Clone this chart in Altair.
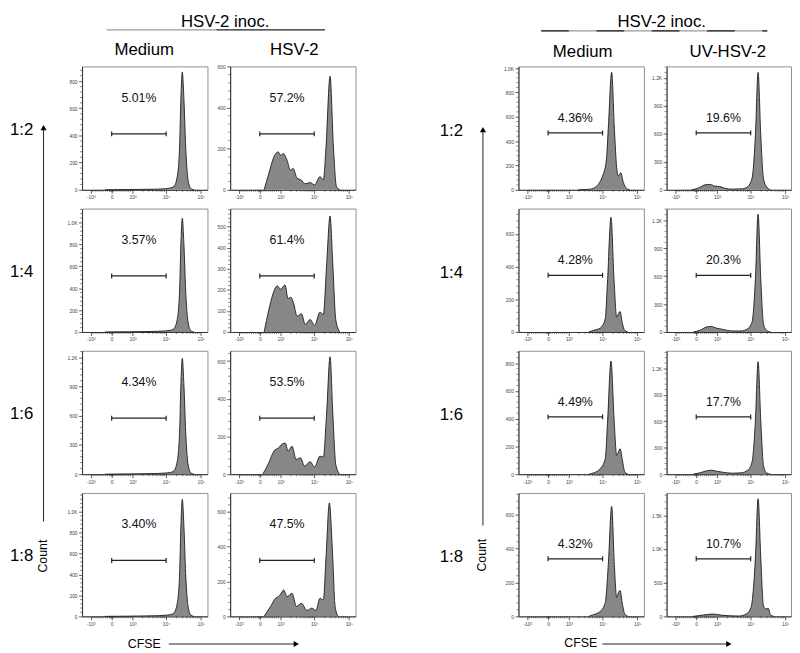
import altair as alt
import numpy as np
import pandas as pd

FONT = "Liberation Sans"

# ---------------- CFSE axis (biexponential display units) ----------------
X_TICKS = [-0.62, 0.0, 0.62, 1.62, 2.65]
X_TICK_LABELS = ["-10³", "0", "10³", "10⁴", "10⁵"]

# ---------------- histogram data: left experiment (HSV-2) ----------------
U_LMED = [-0.20, 0.50, 1.20, 1.60, 1.75, 1.85, 1.95, 2.02, 2.06, 2.10, 2.15, 2.20, 2.25, 2.30, 2.36, 2.45]
C_LMED_12 = [0, 2, 4, 8, 14, 25, 97, 315, 680, 868, 660, 320, 120, 40, 8, 0]
C_LMED_14 = [0, 2, 5, 10, 16, 30, 115, 375, 810, 1037, 790, 380, 145, 48, 10, 0]
C_LMED_16 = [0, 3, 6, 12, 18, 34, 133, 430, 930, 1190, 905, 440, 165, 55, 11, 0]
C_LMED_18 = [0, 2, 5, 11, 17, 32, 125, 405, 875, 1118, 850, 410, 155, 52, 10, 0]

U_LHSV_12 = [0.13, 0.27, 0.42, 0.55, 0.62, 0.70, 0.81, 0.91, 0.99, 1.11, 1.23, 1.35, 1.50, 1.63, 1.79, 1.89, 1.97, 2.09, 2.19, 2.28, 2.38]
C_LHSV_12 = [0, 80, 160, 184, 168, 176, 144, 96, 104, 56, 48, 29, 35, 24, 64, 48, 208, 552, 208, 16, 0]

U_LHSV_14 = [0.13, 0.27, 0.37, 0.52, 0.62, 0.75, 0.84, 0.92, 1.00, 1.11, 1.24, 1.35, 1.50, 1.63, 1.79, 1.89, 1.99, 2.09, 2.17, 2.26, 2.38]
C_LHSV_14 = [0, 106, 169, 219, 203, 223, 158, 165, 140, 75, 87, 36, 59, 31, 94, 83, 325, 551, 325, 59, 0]

U_LHSV_16 = [0.09, 0.27, 0.42, 0.55, 0.67, 0.76, 0.84, 0.96, 1.08, 1.21, 1.33, 1.50, 1.63, 1.79, 1.89, 1.99, 2.09, 2.17, 2.26, 2.38]
C_LHSV_16 = [0, 61, 122, 139, 160, 165, 122, 148, 78, 87, 43, 66, 38, 96, 90, 330, 623, 330, 52, 0]

U_LHSV_18 = [0.13, 0.32, 0.47, 0.55, 0.62, 0.71, 0.81, 0.96, 1.09, 1.24, 1.40, 1.55, 1.67, 1.79, 1.89, 1.97, 2.07, 2.16, 2.24, 2.33]
C_LHSV_18 = [0, 57, 104, 113, 128, 151, 113, 132, 57, 75, 34, 47, 34, 104, 94, 340, 651, 377, 57, 0]

# ---------------- histogram data: right experiment (UV-HSV-2) ----------------
U_RMED_12 = [0.90, 1.25, 1.45, 1.60, 1.73, 1.79, 1.89, 1.97, 2.04, 2.09, 2.16, 2.24, 2.33, 2.43]
C_RMED_12 = [0, 5, 32, 100, 235, 505, 965, 505, 181, 113, 140, 59, 13, 0]

U_RMED_14 = [1.21, 1.35, 1.55, 1.70, 1.77, 1.87, 1.96, 2.04, 2.09, 2.14, 2.21, 2.28, 2.38]
C_RMED_14 = [0, 10, 24, 81, 322, 701, 322, 91, 111, 125, 50, 10, 0]

U_RMED_16 = [1.21, 1.35, 1.55, 1.70, 1.77, 1.87, 1.96, 2.04, 2.09, 2.14, 2.21, 2.28, 2.38]
C_RMED_16 = [0, 9, 40, 111, 384, 816, 408, 135, 159, 183, 100, 17, 0]

U_RMED_18 = [1.21, 1.35, 1.55, 1.70, 1.79, 1.89, 1.97, 2.04, 2.09, 2.14, 2.21, 2.28, 2.38]
C_RMED_18 = [0, 10, 29, 82, 305, 649, 305, 111, 140, 153, 72, 14, 0]

U_RUV_12 = [-0.14, 0.06, 0.26, 0.42, 0.55, 0.70, 0.84, 1.09, 1.38, 1.53, 1.66, 1.76, 1.84, 1.92, 2.00, 2.09, 2.21]
C_RUV_12 = [0, 18, 53, 58, 40, 35, 18, 7, 11, 35, 124, 582, 1260, 582, 124, 35, 0]

U_RUV_14 = [-0.09, 0.11, 0.30, 0.45, 0.60, 0.79, 1.09, 1.33, 1.53, 1.66, 1.76, 1.84, 1.92, 2.00, 2.09, 2.21]
C_RUV_14 = [0, 18, 53, 60, 42, 28, 11, 11, 35, 106, 565, 1264, 565, 88, 18, 0]

U_RUV_16 = [-0.09, 0.11, 0.30, 0.45, 0.60, 0.79, 1.09, 1.33, 1.53, 1.66, 1.76, 1.84, 1.92, 2.00, 2.09, 2.21]
C_RUV_16 = [0, 15, 37, 45, 34, 22, 11, 15, 45, 138, 604, 1275, 604, 100, 15, 0]

U_RUV_18 = [-0.09, 0.21, 0.50, 0.79, 1.28, 1.48, 1.63, 1.76, 1.84, 1.92, 2.00, 2.07, 2.14, 2.21, 2.31]
C_RUV_18 = [0, 20, 34, 15, 5, 34, 132, 865, 1745, 865, 156, 108, 122, 24, 0]

# ---------------- per-panel axis maxima, ticks, gates, percentages ----------------
YMAX_LMED = [909, 1126, 1268, 1180]
YMAX_LHSV = [600, 586, 655, 708]
YMAX_RMED = [1014, 755, 890, 729]
YMAX_RUV = [1325, 1325, 1399, 1833]

YTICKS_LMED = [[0, 200, 400, 600, 800], [0, 200, 400, 600, 800, 1000], [0, 300, 600, 900, 1200], [0, 200, 400, 600, 800, 1000]]
YTICKS_LHSV = [[0, 200, 400, 600], [0, 100, 200, 300, 400, 500], [0, 200, 400, 600], [0, 200, 400, 600]]
YTICKS_RMED = [[0, 200, 400, 600, 800, 1000], [0, 200, 400, 600], [0, 200, 400, 600, 800], [0, 200, 400, 600]]
YTICKS_RUV = [[0, 300, 600, 900, 1200], [0, 300, 600, 900, 1200], [0, 300, 600, 900, 1200], [0, 500, 1000, 1500]]

GATE_U = [0.0, 1.62]
GATE_Y_LMED = [412, 511, 575, 535]
GATE_Y_LHSV = [272, 266, 297, 321]
GATE_Y_RMED = [467, 347, 413, 340]
GATE_Y_RUV = [611, 608, 649, 855]

PCT_LMED = ["5.01%", "3.57%", "4.34%", "3.40%"]
PCT_LHSV = ["57.2%", "61.4%", "53.5%", "47.5%"]
PCT_RMED = ["4.36%", "4.28%", "4.49%", "4.32%"]
PCT_RUV = ["19.6%", "20.3%", "17.7%", "10.7%"]
PCT_U = 0.81
PCT_Y_LMED = [676, 838, 943, 878]
PCT_Y_LHSV = [446, 436, 487, 527]
PCT_Y_RMED = [592, 441, 520, 426]
PCT_Y_RUV = [774, 774, 817, 1070]

RATIOS = ["1:2", "1:4", "1:6", "1:8"]

# ---------------- layout constants ----------------
PANEL_H = 125
W_L = 127
W_R1 = 127
W_R2 = 126
SPACER_W = 119
PX_PER_U = 34.05
X_MIN = -30 / PX_PER_U

ONE = pd.DataFrame({"k": [0]})


def build_x_expr():
    parts = []
    for i in range(len(X_TICKS) - 1):
        mid = (X_TICKS[i] + X_TICKS[i + 1]) / 2
        parts.append(f"datum.value < {mid:.3f} ? '{X_TICK_LABELS[i]}' : ")
    return "".join(parts) + f"'{X_TICK_LABELS[-1]}'"


X_EXPR = build_x_expr()
Y_EXPR = "datum.value >= 1000 ? format(datum.value / 1000, '.1f') + 'K' : format(datum.value, 'd')"

X_MINOR = sorted(
    [-0.062 * k for k in range(1, 10)]
    + [0.062 * k for k in range(1, 10)]
    + [-0.03, -0.015, 0.015, 0.03]
    + [0.62 + float(np.log10(k)) for k in range(2, 10)]
    + [1.62 + 1.03 * float(np.log10(k)) for k in range(2, 10)]
)


def ann_text(txt, x, y, size, align="center", baseline="middle", angle=None, color="#000"):
    kw = dict(text=txt, fontSize=size, font=FONT, align=align, baseline=baseline, color=color)
    if angle is not None:
        kw["angle"] = angle
    return alt.Chart(ONE).mark_text(**kw).encode(x=alt.value(x), y=alt.value(y))


def ann_hline(x1, x2, y, color="#000", width=1.0, dash=None, opacity=1):
    kw = dict(color=color, strokeWidth=width, opacity=opacity)
    if dash is not None:
        kw["strokeDash"] = dash
    return alt.Chart(ONE).mark_rule(**kw).encode(x=alt.value(x1), x2=alt.value(x2), y=alt.value(y))


def ann_vline(x, y1, y2, color="#000", width=1.0):
    return alt.Chart(ONE).mark_rule(color=color, strokeWidth=width).encode(
        x=alt.value(x), y=alt.value(y1), y2=alt.value(y2))


def ann_head(shape, x, y, size=38):
    return alt.Chart(ONE).mark_point(shape=shape, filled=True, size=size, color="#000", opacity=1).encode(
        x=alt.value(x), y=alt.value(y))


def make_panel(u, c, ymax, yticks, gate_y, pct, pct_y, width, extras):
    xs = alt.Scale(domain=[X_MIN, X_MIN + width / PX_PER_U], nice=False, zero=False)
    ys = alt.Scale(domain=[0, ymax], nice=False, zero=True)
    # identical axis definitions in every layer so the shared axes merge cleanly
    xa = alt.Axis(values=X_TICKS, labelExpr=X_EXPR, title=None)
    ya = alt.Axis(values=yticks, labelExpr=Y_EXPR, title=None)
    df = pd.DataFrame({"u": u, "c": c})
    area = alt.Chart(df).mark_area(
        color="#878787", opacity=1, interpolate="monotone",
        line={"color": "#1a1a1a", "strokeWidth": 0.9},
    ).encode(
        x=alt.X("u:Q", scale=xs, axis=xa),
        y=alt.Y("c:Q", scale=ys, axis=ya),
    )
    gdf = pd.DataFrame({"g0": [GATE_U[0]], "g1": [GATE_U[1]], "gy": [gate_y]})
    gate = alt.Chart(gdf).mark_rule(color="#222", strokeWidth=1.3).encode(
        x=alt.X("g0:Q", scale=xs, axis=xa), x2="g1:Q",
        y=alt.Y("gy:Q", scale=ys, axis=ya))
    cdf = pd.DataFrame({"gx": GATE_U, "gy": [gate_y, gate_y]})
    caps = alt.Chart(cdf).mark_tick(orient="vertical", size=5, thickness=1.2, color="#222", opacity=1).encode(
        x=alt.X("gx:Q", scale=xs, axis=xa), y=alt.Y("gy:Q", scale=ys, axis=ya))
    tdf = pd.DataFrame({"tx": [PCT_U], "ty": [pct_y], "lab": [pct]})
    txt = alt.Chart(tdf).mark_text(fontSize=12.5, font=FONT, color="#111").encode(
        x=alt.X("tx:Q", scale=xs, axis=xa), y=alt.Y("ty:Q", scale=ys, axis=ya), text="lab:N")
    xm = alt.Chart(pd.DataFrame({"m": X_MINOR})).mark_rule(color="#333", strokeWidth=0.6).encode(
        x=alt.X("m:Q", scale=xs, axis=xa), y=alt.value(PANEL_H), y2=alt.value(PANEL_H + 2))
    step = yticks[1] / 5
    ym_vals = [v for v in np.arange(step, ymax, step) if abs(v / yticks[1] - round(v / yticks[1])) > 1e-6]
    ym = alt.Chart(pd.DataFrame({"m": ym_vals})).mark_rule(color="#333", strokeWidth=0.6).encode(
        y=alt.Y("m:Q", scale=ys, axis=ya), x=alt.value(-2), x2=alt.value(0))
    return alt.layer(area, xm, ym, gate, caps, txt, *extras).properties(width=width, height=PANEL_H)


def spacer():
    return alt.Chart(ONE).mark_point(opacity=0).encode(x=alt.value(0), y=alt.value(0)).properties(
        width=SPACER_W, height=PANEL_H, view=alt.ViewBackground(strokeOpacity=0))


L_MED_C = [C_LMED_12, C_LMED_14, C_LMED_16, C_LMED_18]
L_HSV_U = [U_LHSV_12, U_LHSV_14, U_LHSV_16, U_LHSV_18]
L_HSV_C = [C_LHSV_12, C_LHSV_14, C_LHSV_16, C_LHSV_18]
R_MED_U = [U_RMED_12, U_RMED_14, U_RMED_16, U_RMED_18]
R_MED_C = [C_RMED_12, C_RMED_14, C_RMED_16, C_RMED_18]
R_UV_U = [U_RUV_12, U_RUV_14, U_RUV_16, U_RUV_18]
R_UV_C = [C_RUV_12, C_RUV_14, C_RUV_16, C_RUV_18]

cells = []
for r in range(4):
    ex_l1 = [ann_text(RATIOS[r], -73, 64, 17, align="left")]
    ex_l2 = []
    ex_r1 = [ann_text(RATIOS[r], -68, 65, 17)]
    ex_r2 = []
    if r == 0:
        ex_l1 += [
            # invisible anchor fixing the top-left corner of the figure (page 8,8)
            ann_hline(-74, -72, -54, color="#fff", width=0.1, opacity=0),
            ann_text("HSV-2 inoc.", 145, -53, 17, baseline="top"),
            ann_hline(25, 136, -37, color="#9a9a9a", width=1.2),
            ann_hline(136, 246, -37, color="#222", width=1.2),
            ann_text("Medium", 63, -17, 17),
            ann_vline(-39, 64, 461, color="#222", width=1.0),
            ann_head("triangle-up", -39, 62),
        ]
        ex_l2 += [ann_text("HSV-2", 65, -17, 17)]
        ex_r1 += [
            ann_text("HSV-2 inoc.", 145, -53, 17, baseline="top"),
            ann_hline(23, 252, -36, color="#9a9a9a", width=1.2),
            ann_hline(23, 252, -36, color="#222", width=1.2, dash=[28, 28]),
            ann_text("Medium", 65, -14, 17),
            ann_vline(-36, 66, 465, color="#222", width=1.0),
            ann_head("triangle-up", -36, 64),
        ]
        ex_r2 += [ann_text("UV-HSV-2", 62, -14, 17)]
    if r == 3:
        ex_l1 += [
            ann_text("Count", -40, 64, 12.5, angle=270),
            ann_text("CFSE", 63, 153, 12.5),
            ann_hline(88, 215, 153, color="#222", width=1.0),
            ann_head("triangle-right", 217, 153),
        ]
        ex_r1 += [
            ann_text("Count", -37, 63, 12.5, angle=270),
            ann_text("CFSE", 63, 152, 12.5),
            ann_hline(85, 211, 153, color="#222", width=1.0),
            ann_head("triangle-right", 213, 153),
        ]
    cells.append(make_panel(U_LMED, L_MED_C[r], YMAX_LMED[r], YTICKS_LMED[r], GATE_Y_LMED[r],
                            PCT_LMED[r], PCT_Y_LMED[r], W_L, ex_l1))
    cells.append(make_panel(L_HSV_U[r], L_HSV_C[r], YMAX_LHSV[r], YTICKS_LHSV[r], GATE_Y_LHSV[r],
                            PCT_LHSV[r], PCT_Y_LHSV[r], W_L, ex_l2))
    cells.append(spacer())
    cells.append(make_panel(R_MED_U[r], R_MED_C[r], YMAX_RMED[r], YTICKS_RMED[r], GATE_Y_RMED[r],
                            PCT_RMED[r], PCT_Y_RMED[r], W_R1, ex_r1))
    cells.append(make_panel(R_UV_U[r], R_UV_C[r], YMAX_RUV[r], YTICKS_RUV[r], GATE_Y_RUV[r],
                            PCT_RUV[r], PCT_Y_RUV[r], W_R2, ex_r2))

chart = alt.concat(
    *cells, columns=5, spacing=alt.RowColnumber(row=19, column=23), bounds="flush", align="each"
).properties(
    padding=0
).configure_view(
    stroke="#8f8f8f", strokeWidth=1
).configure_axis(
    labelFont=FONT, labelFontSize=5, labelColor="#444", tickColor="#333", tickSize=3.5,
    tickWidth=0.8, domainColor="#333", domainWidth=1, grid=False, labelPadding=1.5,
    labelFlush=False, labelOverlap=False,
)

chart.save("out.html", embed_options={"renderer": "svg", "actions": False})
